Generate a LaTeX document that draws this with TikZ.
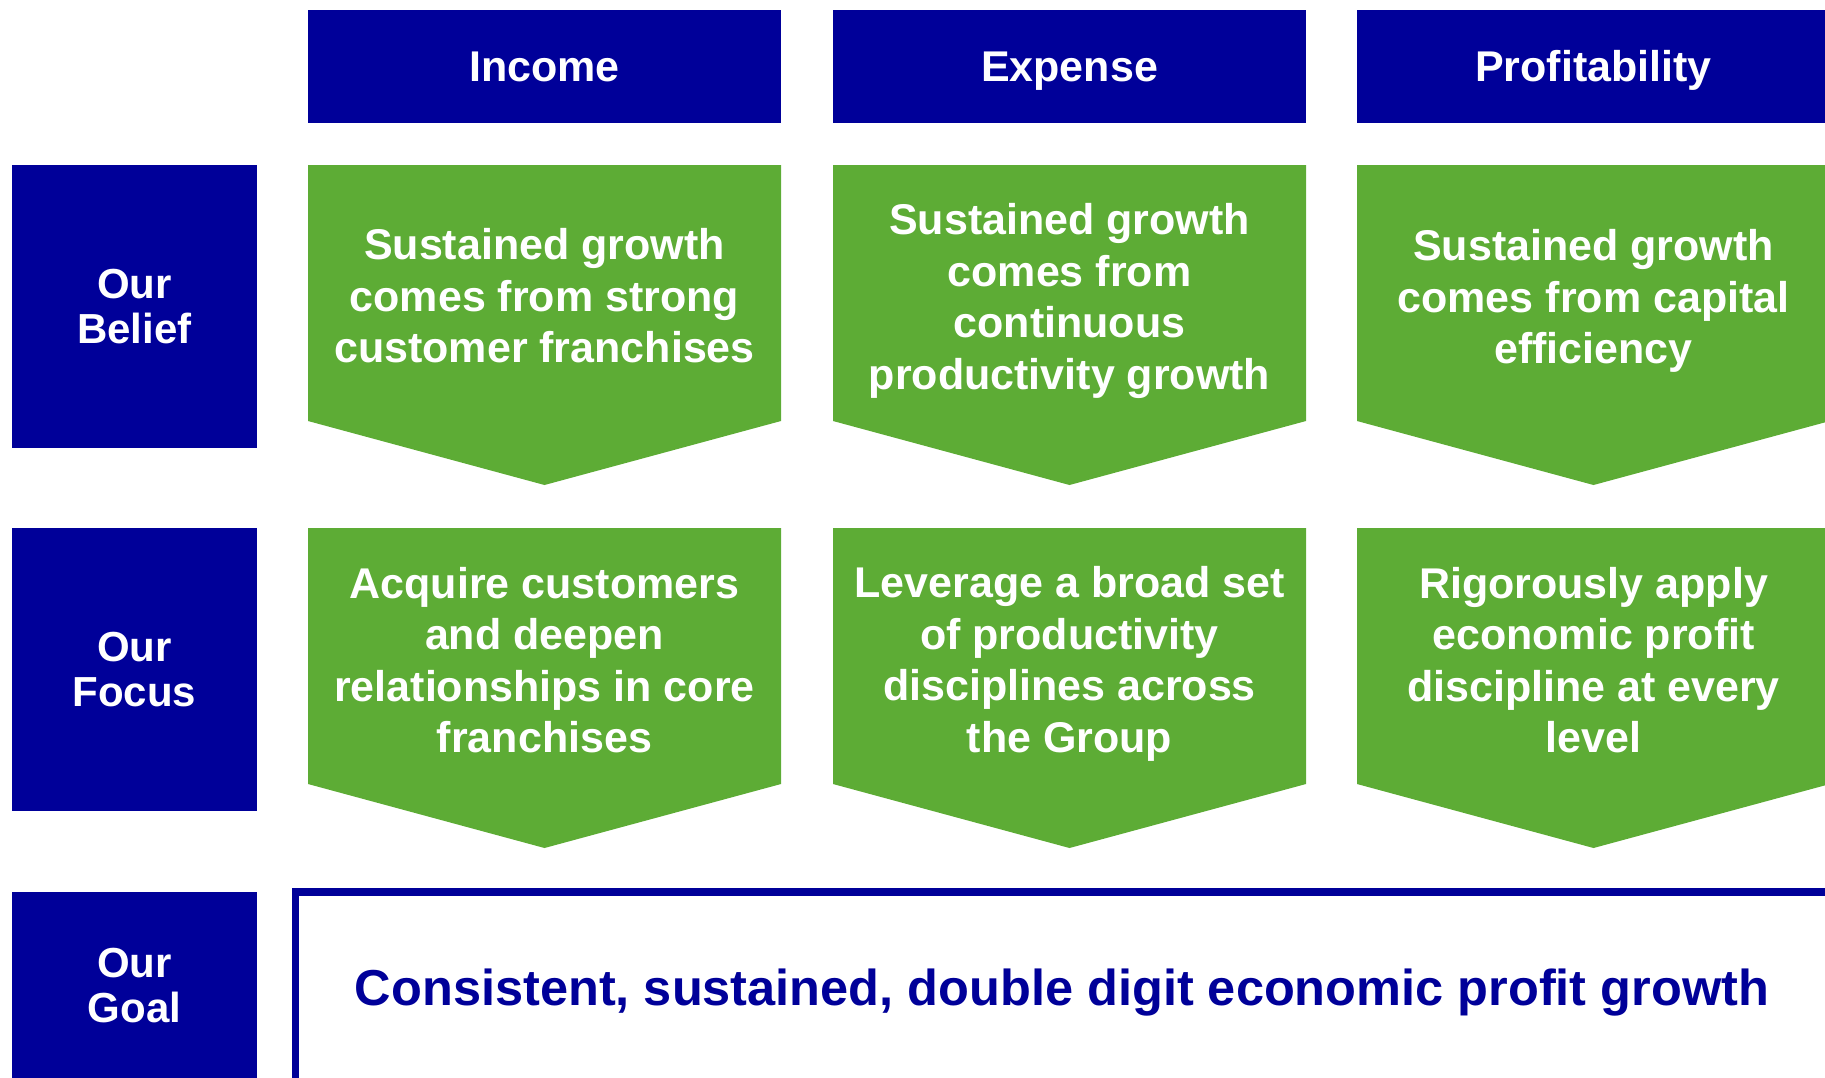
\documentclass[tikz,border=0pt]{standalone}
\usepackage{fontspec}
\setmainfont{Liberation Sans}
\definecolor{navy}{RGB}{0,0,153}
\definecolor{leaf}{RGB}{93,172,53}
\tikzset{
	hdr/.style={fill=navy,text=white,inner sep=0pt,minimum width=473pt,minimum height=113pt,text height=31pt,text depth=0pt,font=\bfseries\fontsize{43}{49}\selectfont},
	lbl/.style={fill=navy,text=white,inner sep=0pt,minimum width=245pt,minimum height=283pt,align=center,font=\bfseries\fontsize{42}{45}\selectfont},
	txt/.style={text=white,align=center,font=\bfseries\fontsize{43}{51.5}\selectfont},
}
\begin{document}
\begin{tikzpicture}[x=1pt,y=-1pt]
	\useasboundingbox(0,0)rectangle(1825,1077);
	\clip(0,0)rectangle(1825,1077);
	% column heads
	\node[hdr](income)at(544.5,66){Income};
	\node[hdr](expense)at(1069.5,66){Expense};
	\node[hdr](profit)at(1593.5,66){Profitability};
	% row labels
	\node[lbl](belief)at(134.5,306.5){Our\\Belief};
	\node[lbl](focus)at(134.5,669.5){Our\\Focus};
	\fill[navy](12,892)rectangle(257,1090);
	\node[txt,font=\bfseries\fontsize{42}{45}\selectfont](goal)at(134.5,986){Our\\Goal};
	% green chevrons
	\foreach \cx in {544.5,1069.5,1593.5}
		\foreach \top in {165,528}
			\fill[leaf](\cx-236.5,\top)--++(473,0)--++(0,256)--(\cx,\top+320)--(\cx-236.5,\top+256)--cycle;
	\node[txt](incbelief)at(544.5,296){Sustained growth\\comes from strong\\customer franchises};
	\node[txt](expbelief)at(1069.5,301){Sustained growth\\comes from\\continuous\\productivity growth};
	\node[txt](profbelief)at(1593.5,301){Sustained growth\\comes from capital\\efficiency};
	\node[txt](incfocus)at(544.5,660){Acquire customers\\and deepen\\relationships in core\\franchises};
	\node[txt](expfocus)at(1069.5,664){Leverage a broad set\\of productivity\\disciplines across\\the Group};
	\node[txt](proffocus)at(1593.5,660){Rigorously apply\\economic profit\\discipline at every\\level};
	% goal frame
	\draw[navy,line width=7.7pt](295.5,892)rectangle(1860,1110);
	\node[text=navy,font=\bfseries\fontsize{50.5}{56}\selectfont](aim)at(1062,993){Consistent, sustained, double digit economic profit growth};
\end{tikzpicture}
\end{document}
